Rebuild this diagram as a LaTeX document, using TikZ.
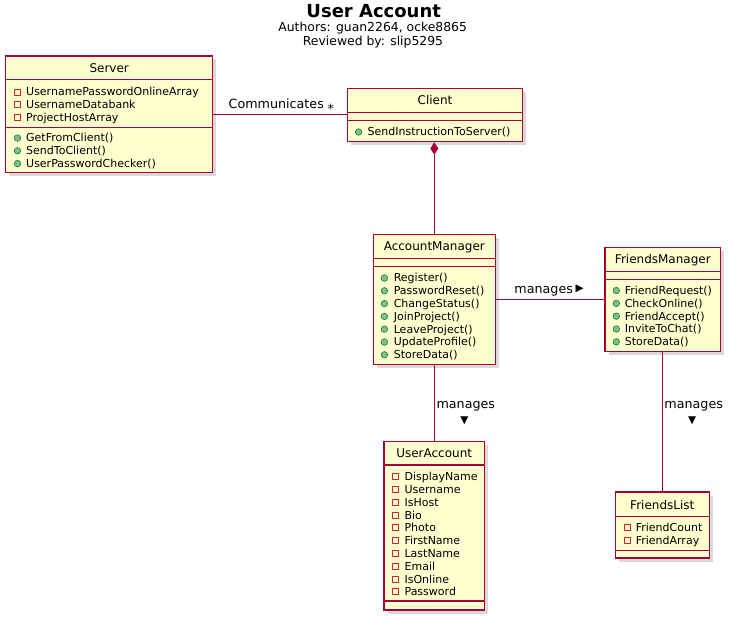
\documentclass[tikz,border=0pt]{standalone}
\usepackage{fontspec}
\setmainfont{DejaVu Sans}
\usetikzlibrary{arrows.meta,positioning,shadows}
\definecolor{umlfill}{HTML}{FEFECE}
\definecolor{umlred}{HTML}{A80036}
\definecolor{umlgreen}{HTML}{84BE84}
\definecolor{umldkgreen}{HTML}{038048}
\definecolor{umlpriv}{HTML}{C82930}

\tikzset{
  umlbox/.style={draw=umlred, fill=umlfill, line width=1.3pt, inner sep=0pt,
    drop shadow={shadow xshift=3.5pt, shadow yshift=-3.5pt, opacity=0.3}},
  divider/.style={draw=umlred, line width=1.3pt},
  clsname/.style={font=\fontsize{12}{14}\selectfont, anchor=base, inner sep=0pt},
  member/.style={font=\fontsize{11}{13}\selectfont, anchor=base west, inner sep=0pt},
  privicon/.style={rectangle, draw=umlpriv, line width=0.8pt, minimum size=6pt, inner sep=0pt},
  pubicon/.style={circle, draw=umldkgreen, fill=umlgreen, line width=0.6pt, minimum size=6.5pt, inner sep=0pt},
  assoc/.style={draw=umlred, line width=1pt},
  rellabel/.style={font=\fontsize{12.7}{15}\selectfont, anchor=base, inner sep=0pt},
  tri/.style={font=\fontsize{10.5}{11}\selectfont, inner sep=0pt},
}

\begin{document}
\begin{tikzpicture}[x=1pt,y=-1pt]
  \useasboundingbox (0,0) rectangle (734,620);

  % ---- Title -------------------------------------------------
  \node[font=\bfseries\fontsize{18}{20}\selectfont, anchor=base, inner sep=0pt] (title) at (373.7,17.3) {User Account};
  \node[font=\fontsize{12.4}{14}\selectfont, anchor=base, inner sep=0pt] (authors) at (372.7,32) {Authors: guan2264, ocke8865};
  \node[font=\fontsize{12.4}{14}\selectfont, anchor=base, inner sep=0pt] (reviewer) at (373,46) {Reviewed by: slip5295};

  % ---- Class boxes -------------------------------------------
  \node[umlbox, minimum width=207pt, minimum height=116.7pt] (server) at (109.2,114.35) {};
  \node[umlbox, minimum width=175.4pt, minimum height=53.4pt] (client) at (435,115) {};
  \node[umlbox, minimum width=122pt, minimum height=130pt] (accmgr) at (434.3,299.3) {};
  \node[umlbox, minimum width=115.7pt, minimum height=104pt] (frmgr) at (662.85,299.7) {};
  \node[umlbox, minimum width=100.3pt, minimum height=168.3pt] (useracc) at (434.15,525.85) {};
  \node[umlbox, minimum width=94pt, minimum height=66pt] (frlist) at (662.3,525) {};

  % ---- Server ------------------------------------------------
  \node[clsname] (server-name) at (109.2,72.7) {Server};
  \draw[divider] (server.west |- 0,79.3) -- (server.east |- 0,79.3);
  \draw[divider] (server.west |- 0,127.7) -- (server.east |- 0,127.7);
  \foreach \m [count=\i from 0] in {UsernamePasswordOnlineArray,UsernameDatabank,ProjectHostArray}{
    \node[privicon] (srv-ai\i) at (17.5,{92+12.8*\i}) {};
    \node[member] (srv-a\i) at (26,{96+12.8*\i}) {\m};
  }
  \foreach \m [count=\i from 0] in {GetFromClient(),SendToClient(),UserPasswordChecker()}{
    \node[pubicon] (srv-mi\i) at (17.5,{138+12.8*\i}) {};
    \node[member] (srv-m\i) at (26,{142+12.8*\i}) {\m};
  }

  % ---- Client ------------------------------------------------
  \node[clsname] (client-name) at (435,105) {Client};
  \draw[divider] (client.west |- 0,112.3) -- (client.east |- 0,112.3);
  \draw[divider] (client.west |- 0,120.7) -- (client.east |- 0,120.7);
  \node[pubicon] (cli-mi0) at (358.6,132) {};
  \node[member] (cli-m0) at (367.4,136) {SendInstructionToServer()};

  % ---- AccountManager ----------------------------------------
  \node[clsname] (accmgr-name) at (434.3,251) {AccountManager};
  \draw[divider] (accmgr.west |- 0,258.3) -- (accmgr.east |- 0,258.3);
  \draw[divider] (accmgr.west |- 0,266.3) -- (accmgr.east |- 0,266.3);
  \foreach \m [count=\i from 0] in {Register(),PasswordReset(),ChangeStatus(),JoinProject(),LeaveProject(),UpdateProfile(),StoreData()}{
    \node[pubicon] (acc-mi\i) at (384.4,{278+12.8*\i}) {};
    \node[member] (acc-m\i) at (393.6,{282+12.8*\i}) {\m};
  }

  % ---- FriendsManager ----------------------------------------
  \node[clsname] (frmgr-name) at (662.85,264) {FriendsManager};
  \draw[divider] (frmgr.west |- 0,271.7) -- (frmgr.east |- 0,271.7);
  \draw[divider] (frmgr.west |- 0,279.3) -- (frmgr.east |- 0,279.3);
  \foreach \m [count=\i from 0] in {FriendRequest(),CheckOnline(),FriendAccept(),InviteToChat(),StoreData()}{
    \node[pubicon] (frm-mi\i) at (616.3,{290.6+12.8*\i}) {};
    \node[member] (frm-m\i) at (624.6,{294.6+12.8*\i}) {\m};
  }

  % ---- UserAccount -------------------------------------------
  \node[clsname] (useracc-name) at (434.15,457.7) {UserAccount};
  \draw[divider] (useracc.west |- 0,465) -- (useracc.east |- 0,465);
  \draw[divider] (useracc.west |- 0,601) -- (useracc.east |- 0,601);
  \foreach \m [count=\i from 0] in {DisplayName,Username,IsHost,Bio,Photo,FirstName,LastName,Email,IsOnline,Password}{
    \node[privicon] (ua-ai\i) at (395.5,{476.6+12.8*\i}) {};
    \node[member] (ua-a\i) at (404.4,{480.6+12.8*\i}) {\m};
  }

  % ---- FriendsList -------------------------------------------
  \node[clsname] (frlist-name) at (662.3,509) {FriendsList};
  \draw[divider] (frlist.west |- 0,516.7) -- (frlist.east |- 0,516.7);
  \draw[divider] (frlist.west |- 0,550.7) -- (frlist.east |- 0,550.7);
  \foreach \m [count=\i from 0] in {FriendCount,FriendArray}{
    \node[privicon] (fl-ai\i) at (627,{527.6+12.8*\i}) {};
    \node[member] (fl-a\i) at (635.6,{531.6+12.8*\i}) {\m};
  }

  % ---- Relations ---------------------------------------------
  % Server -- Client
  \draw[assoc] (server.east |- client.west) -- (client.west);
  \node[rellabel] (comm-lbl) at (276.3,108.5) {Communicates};
  \node[rellabel] (comm-mult) at (330.8,114) {*};

  % Client <>-- AccountManager (composition)
  \draw[assoc, {Diamond[length=12.3pt,width=8pt]}-] (client.south -| accmgr.north) -- (accmgr.north);

  % AccountManager -- FriendsManager
  \draw[assoc] (accmgr.east) -- (accmgr.east -| frmgr.west);
  \node[rellabel] (mng-fm) at (543.7,293.3) {manages};
  \node[tri] (mng-fm-tri) at (579.7,289) {▶};

  % AccountManager -- UserAccount
  \draw[assoc] (accmgr.south) -- (accmgr.south |- useracc.north);
  \node[rellabel] (mng-ua) at (465.8,408.3) {manages};
  \node[tri] (mng-ua-tri) at (464.5,420.3) {▼};

  % FriendsManager -- FriendsList
  \draw[assoc] (frmgr.south -| frlist.north) -- (frlist.north);
  \node[rellabel] (mng-fl) at (693.7,408.3) {manages};
  \node[tri] (mng-fl-tri) at (692.2,420.3) {▼};

\end{tikzpicture}
\end{document}
